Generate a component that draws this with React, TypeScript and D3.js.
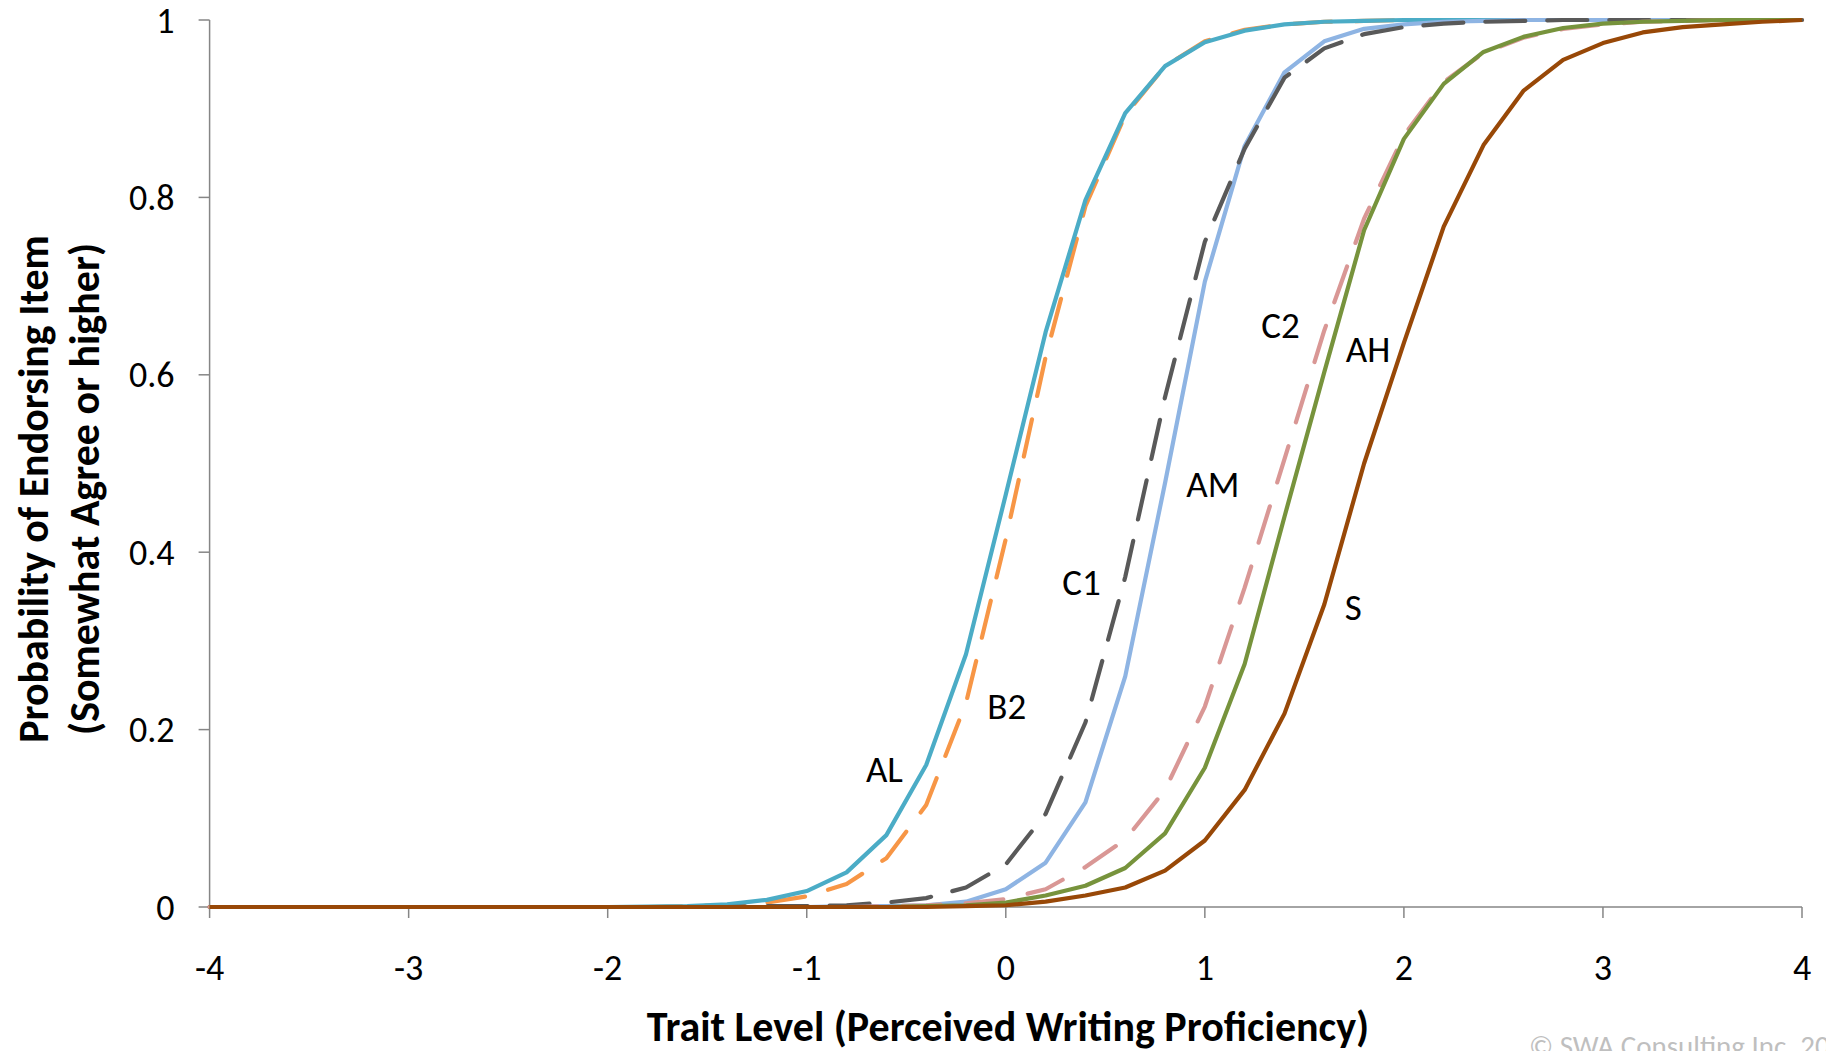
import React from "react";
import * as d3 from "d3";

const theta = [
  -4.0, -3.8, -3.6, -3.4, -3.2, -3.0, -2.8, -2.6, -2.4, -2.2,
  -2.0, -1.8, -1.6, -1.4, -1.2, -1.0, -0.8, -0.6, -0.4, -0.2,
  0.0, 0.2, 0.4, 0.6, 0.8, 1.0, 1.2, 1.4, 1.6, 1.8,
  2.0, 2.2, 2.4, 2.6, 2.8, 3.0, 3.2, 3.4, 3.6, 3.8, 4.0,
];

const AL = [0,0,0,0,0,0,0,0,0,0, 0,0.0005,0.001,0.003,0.008, 0.018,0.039,0.081,0.16,0.285, 0.465,0.648,0.797,0.895,0.948, 0.975,0.988,0.995,0.998,0.999, 1,1,1,1,1, 1,1,1,1,1, 1];
const B2 = [0,0,0,0,0,0,0,0,0,0, 0,0,0.001,0.002,0.005, 0.012,0.026,0.055,0.115,0.23, 0.415,0.62,0.79,0.893,0.948, 0.976,0.989,0.995,0.998,0.999, 1,1,1,1,1, 1,1,1,1,1, 1];
const C1 = [0,0,0,0,0,0,0,0,0,0, 0,0,0,0,0.001, 0.001,0.002,0.005,0.01,0.022, 0.048,0.105,0.208,0.372,0.575, 0.75,0.855,0.935,0.968,0.984, 0.992,0.996,0.998,0.999,1, 1,1,1,1,1, 1];
const AM = [0,0,0,0,0,0,0,0,0,0, 0,0,0,0,0, 0,0.001,0.001,0.002,0.006, 0.02,0.05,0.118,0.26,0.478, 0.705,0.858,0.941,0.976,0.99, 0.995,0.998,0.999,1,1, 1,1,1,1,1, 1];
const C2 = [0,0,0,0,0,0,0,0,0,0, 0,0,0,0,0, 0,0,0.001,0.002,0.004, 0.009,0.02,0.045,0.076,0.132, 0.226,0.36,0.505,0.65,0.776, 0.87,0.93,0.963,0.98,0.99, 0.995,0.998,0.999,1,1, 1];
const AH = [0,0,0,0,0,0,0,0,0,0, 0,0,0,0,0, 0,0,0,0.001,0.002, 0.005,0.013,0.024,0.044,0.083, 0.157,0.274,0.44,0.603,0.763, 0.866,0.928,0.964,0.981,0.991, 0.996,0.998,0.999,1,1, 1];
const S = [0,0,0,0,0,0,0,0,0,0, 0,0,0,0,0, 0,0,0,0,0.001, 0.002,0.006,0.013,0.022,0.041, 0.075,0.132,0.218,0.341,0.5, 0.636,0.767,0.859,0.92,0.955, 0.974,0.986,0.992,0.995,0.998, 1];

const seriesNames = ["B2", "AL", "AM", "C1", "C2", "AH", "S"];
const seriesValues = [B2, AL, AM, C1, C2, AH, S];
const seriesColors = ["#F79646", "#4BACC6", "#8EB4E3", "#595959", "#D99795", "#77933C", "#984807"];
const seriesDash = ["38,24", null, null, "40,22", "38,25", null, null];

const labelNames = ["AL", "B2", "C1", "AM", "C2", "AH", "S"];
const labelX = [-0.61, 0.005, 0.38, 1.04, 1.38, 1.82, 1.745];
const labelY = [0.156, 0.227, 0.366, 0.477, 0.656, 0.629, 0.338];

const xTicks = [-4, -3, -2, -1, 0, 1, 2, 3, 4];
const yTicks = [0, 0.2, 0.4, 0.6, 0.8, 1];

const W = 1826;
const H = 1051;
const FONT = "Carlito, Calibri, Lato, 'Open Sans', sans-serif";

export default function App() {
  const x = d3.scaleLinear().domain([-4, 4]).range([209.6, 1802]);
  const y = d3.scaleLinear().domain([0, 1]).range([907, 20]);
  const line = d3
    .line<number>()
    .x((_, i) => x(theta[i]))
    .y((d) => y(d));
  const axisColor = "#868686";

  return (
    <svg
      width={W}
      height={H}
      style={{ position: "absolute", left: 0, top: 0, background: "#fff" }}
      fontFamily={FONT}
    >
      <rect x={0} y={0} width={W} height={H} fill="#fff" />
      {/* y axis */}
      <line x1={x(-4)} x2={x(-4)} y1={y(0)} y2={y(1)} stroke={axisColor} strokeWidth={1.5} />
      {yTicks.map((t) => (
        <g key={"yt" + t}>
          <line x1={x(-4) - 11} x2={x(-4)} y1={y(t)} y2={y(t)} stroke={axisColor} strokeWidth={1.5} />
          <text x={x(-4) - 35} y={y(t)} dy="0.35em" textAnchor="end" fontSize={36} fill="#000">
            {String(t)}
          </text>
        </g>
      ))}
      {/* x axis */}
      <line x1={x(-4)} x2={x(4)} y1={y(0)} y2={y(0)} stroke={axisColor} strokeWidth={1.5} />
      {xTicks.map((t) => (
        <g key={"xt" + t}>
          <line x1={x(t)} x2={x(t)} y1={y(0)} y2={y(0) + 11} stroke={axisColor} strokeWidth={1.5} />
          <text x={x(t)} y={y(0) + 60} dy="0.35em" textAnchor="middle" fontSize={36} fill="#000">
            {String(t)}
          </text>
        </g>
      ))}
      {/* series */}
      {seriesValues.map((vals, i) => (
        <path
          key={seriesNames[i]}
          d={line(vals) || ""}
          fill="none"
          stroke={seriesColors[i]}
          strokeWidth={4.2}
          strokeDasharray={seriesDash[i] || undefined}
          strokeLinecap={seriesDash[i] ? "round" : "butt"}
          strokeLinejoin="round"
        />
      ))}
      {/* curve labels */}
      {labelNames.map((n, i) => (
        <text
          key={"lbl" + n}
          x={x(labelX[i])}
          y={y(labelY[i])}
          dy="0.35em"
          textAnchor="middle"
          fontSize={37}
          fill="#000"
        >
          {n}
        </text>
      ))}
      {/* axis titles */}
      <text x={1008} y={1041} textAnchor="middle" fontSize={42} fontWeight="bold" fill="#000">
        Trait Level (Perceived Writing Proficiency)
      </text>
      <text
        transform={`translate(48,${489}) rotate(-90)`}
        textAnchor="middle"
        fontSize={42}
        fontWeight="bold"
        fill="#000"
      >
        <tspan x={0} dy={0}>Probability of Endorsing Item</tspan>
        <tspan x={0} dy={51}>(Somewhat Agree or higher)</tspan>
      </text>
      <text x={1529} y={1056} fontSize={29} fill="#BFBFBF">
        © SWA Consulting Inc. 2013
      </text>
    </svg>
  );
}
